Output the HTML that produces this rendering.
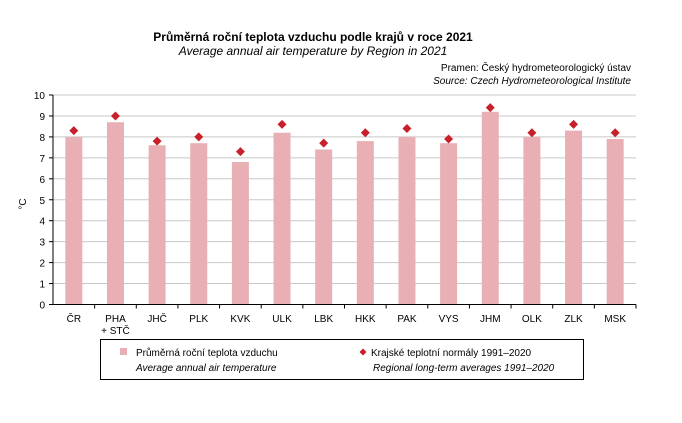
<!DOCTYPE html>
<html><head><meta charset="utf-8"><style>
body{margin:0;background:#fff}
svg text{font-family:"Liberation Sans",Arial,sans-serif;fill:#000}
</style></head><body>
<svg width="682" height="418" xmlns="http://www.w3.org/2000/svg">
<rect width="682" height="418" fill="#fff"/>
<text x="313" y="41" font-size="12" font-weight="bold" text-anchor="middle">Průměrná roční teplota vzduchu podle krajů v roce 2021</text>
<text x="313" y="55" font-size="12" font-style="italic" text-anchor="middle">Average annual air temperature by Region in 2021</text>
<text x="631" y="71" font-size="10" text-anchor="end">Pramen: Český hydrometeorologický ústav</text>
<text x="631" y="84" font-size="10" font-style="italic" text-anchor="end">Source: Czech Hydrometeorological Institute</text>
<g id="grid" stroke="#c8c8c8" stroke-width="1"></g>
<g id="bars"></g>
<g id="axes"></g>
<text x="0" y="0" font-size="10" transform="translate(26,204) rotate(-90)" text-anchor="middle">°C</text>
<rect x="100.5" y="339.5" width="483" height="40" fill="none" stroke="#000"/>
<rect x="120" y="348" width="7" height="7" fill="#e8b0b4"/>
<text x="136" y="356" font-size="10">Průměrná roční teplota vzduchu</text>
<text x="136" y="371" font-size="10" font-style="italic">Average annual air temperature</text>
<polygon points="363,348.5 366.5,352 363,355.5 359.5,352" fill="#c8202a"/>
<text x="371" y="356" font-size="10">Krajské teplotní normály 1991–2020</text>
<text x="373" y="371" font-size="10" font-style="italic">Regional long-term averages 1991–2020</text>
</svg>
<script>
const ns="http://www.w3.org/2000/svg",s=document.querySelector('svg');
function el(t,a,p,txt){const e=document.createElementNS(ns,t);for(const k in a)e.setAttribute(k,a[k]);if(txt!=null)e.textContent=txt;(p||s).appendChild(e);return e;}
const g=document.getElementById('grid'),b=document.getElementById('bars'),ax=document.getElementById('axes');
const x0=53,x1=636,y0=304.5,sc=20.95,cw=(x1-x0)/14;
for(let i=0;i<=10;i++){const y=y0-i*sc;if(i>0)el('line',{x1:x0,x2:x1,y1:y,y2:y},g);
el('line',{x1:x0-4,x2:x0,y1:y,y2:y,stroke:'#000'},ax);
el('text',{x:x0-8,y:y+4,'font-size':10,'text-anchor':'end'},ax,String(i));}
const labs=['ČR','PHA','JHČ','PLK','KVK','ULK','LBK','HKK','PAK','VYS','JHM','OLK','ZLK','MSK'];
const v=[8.0,8.7,7.6,7.7,6.8,8.2,7.4,7.8,8.0,7.7,9.2,8.0,8.3,7.9];
const d=[8.3,9.0,7.8,8.0,7.3,8.6,7.7,8.2,8.4,7.9,9.4,8.2,8.6,8.2];
for(let i=0;i<14;i++){const c=x0+cw*(i+0.5);
el('rect',{x:c-8.5,y:y0-v[i]*sc,width:17,height:v[i]*sc,fill:'#e8b0b4'},b);
const dy=y0-d[i]*sc;el('polygon',{points:`${c},${dy-4.5} ${c+4.5},${dy} ${c},${dy+4.5} ${c-4.5},${dy}`,fill:'#c8202a'},b);
el('text',{x:c,y:322,'font-size':10,'text-anchor':'middle'},ax,labs[i]);
el('line',{x1:x0+cw*(i+1),x2:x0+cw*(i+1),y1:y0,y2:y0+4,stroke:'#000'},ax);}
el('text',{x:x0+cw*1.5,y:334,'font-size':10,'text-anchor':'middle'},ax,'+ STČ');
el('line',{x1:x0,x2:x0,y1:y0-10*sc,y2:y0,stroke:'#000'},ax);
el('line',{x1:x0,x2:x1,y1:y0,y2:y0,stroke:'#000'},ax);
</script>
</body></html>
